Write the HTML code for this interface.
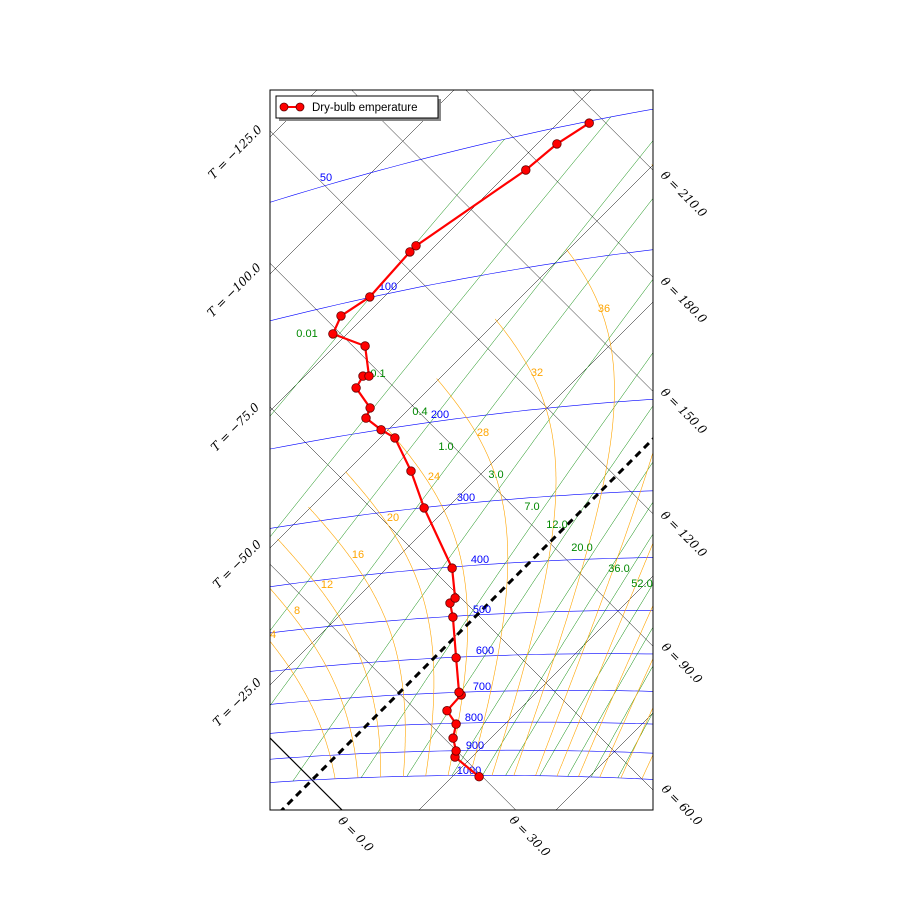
<!DOCTYPE html>
<html><head><meta charset="utf-8"><style>
html,body{margin:0;padding:0;background:#fff;overflow:hidden;}
svg{display:block;}
svg text{font-family:"Liberation Sans","DejaVu Sans",sans-serif;}
.ax{font-family:"DejaVu Serif","Liberation Serif",serif;font-size:12px;font-style:italic;}
</style></head><body>
<svg id="chart" width="900" height="900" viewBox="0 0 900 900" xmlns="http://www.w3.org/2000/svg">
<defs><clipPath id="clip"><rect x="270" y="90" width="383" height="720"/></clipPath></defs>
<rect x="0" y="0" width="900" height="900" fill="#fff"/>
<g id="grid" clip-path="url(#clip)"></g>
<g id="labels" clip-path="url(#clip)"></g>
<g id="series" clip-path="url(#clip)"></g>
<rect x="270" y="90" width="383" height="720" fill="none" stroke="#000" stroke-width="1"/>
<g>
<rect x="279" y="99" width="162" height="22" fill="#888"/>
<rect x="276" y="96" width="162" height="22" fill="#fff" stroke="#000" stroke-width="1"/>
<line x1="284" y1="107" x2="300" y2="107" stroke="#f00" stroke-width="2"/>
<circle cx="284" cy="107" r="4" fill="#f00" stroke="#600" stroke-width="0.8"/>
<circle cx="300" cy="107" r="4" fill="#f00" stroke="#600" stroke-width="0.8"/>
<text x="312" y="111" font-size="11.5">Dry-bulb emperature</text>
</g>
<g>
<text class="ax" transform="translate(238,155) rotate(-45)" text-anchor="middle">T = −125.0</text>
<text class="ax" transform="translate(237,293) rotate(-45)" text-anchor="middle">T = −100.0</text>
<text class="ax" transform="translate(238,430) rotate(-45)" text-anchor="middle">T = −75.0</text>
<text class="ax" transform="translate(240,567) rotate(-45)" text-anchor="middle">T = −50.0</text>
<text class="ax" transform="translate(240,705) rotate(-45)" text-anchor="middle">T = −25.0</text>
</g>
<g>
<text class="ax" transform="translate(681,197) rotate(45)" text-anchor="middle">θ = 210.0</text>
<text class="ax" transform="translate(681,303) rotate(45)" text-anchor="middle">θ = 180.0</text>
<text class="ax" transform="translate(681,414) rotate(45)" text-anchor="middle">θ = 150.0</text>
<text class="ax" transform="translate(681,537) rotate(45)" text-anchor="middle">θ = 120.0</text>
<text class="ax" transform="translate(679,666) rotate(45)" text-anchor="middle">θ = 90.0</text>
<text class="ax" transform="translate(679,808) rotate(45)" text-anchor="middle">θ = 60.0</text>
</g>
<g>
<text class="ax" transform="translate(353,837) rotate(45)" text-anchor="middle">θ = 0.0</text>
<text class="ax" transform="translate(527,839) rotate(45)" text-anchor="middle">θ = 30.0</text>
</g>
</svg>
<script>
// Sounding data: dry-bulb temperature (°C) and potential temperature (°C)
const temperatureC = [29.9,21.9,21.0,18.1,16.1,12.0,11.7,10.8,4.0,-4.0,-7.1,-7.1,-13.1,-29.2,-38.3,-47.3,-51.3,-56.2,-57.3,-63.5,-64.4,-63.3,-69.5,-77.6,-79.4,-77.6,-78.5,-78.5,-72.3,-71.4,-69.3];
const potentialTempC = [29.4,28.6,29.9,31.7,34.8,35.6,41.2,41.3,47.3,54.6,56.8,58.8,64.2,70.8,75.7,79.3,78.1,77.4,80.4,81.7,85.7,87.0,92.7,88.3,94.0,104.7,124.5,127.4,174.6,190.2,205.2];
const isotherms = [-175,-150,-125,-100,-75,-50,-25,0,25,50,75];
const dryAdiabats = [-60,-30,0,30,60,90,120,150,180,210,240,270];
const isobars = [50,100,200,300,400,500,600,700,800,900,1000];
const mixingRatios = [0.01,0.1,0.4,1.0,3.0,7.0,12.0,20.0,28.0,36.0,52.0,70.0,90.0,120.0];
const wetBulbPotTemps = [4,8,12,16,20,24,28,32,36,40,44,48,52,56,60];
const isobarLabels = ["50","100","200","300","400","500","600","700","800","900","1000"];
const mixingLabels = ["0.01","0.1","0.4","1.0","3.0","7.0","12.0","20.0","36.0","52.0"];
const wetLabels = ["4","8","12","16","20","24","28","32","36"];

const NS="http://www.w3.org/2000/svg";
const gGrid=document.getElementById('grid'), gLab=document.getElementById('labels'), gSer=document.getElementById('series');
function xy(Tc, thK){const s=1092+5.48*Tc;const d=468-1667*(Math.log(thK)-5.61);return [(s-d)/2,(s+d)/2];}
function thetaK(Tc,p){return (Tc+273.15)*Math.pow(1000/p,0.2857);}
function es(Tc){return 6.112*Math.exp(17.67*Tc/(Tc+243.5));}
function tFromEs(e){const l=Math.log(e/6.112);return 243.5*l/(17.67-l);}
function poly(pts,stroke,w,dash){const el=document.createElementNS(NS,'polyline');el.setAttribute('points',pts.map(p=>p[0].toFixed(1)+','+p[1].toFixed(1)).join(' '));el.setAttribute('fill','none');el.setAttribute('stroke',stroke);el.setAttribute('stroke-width',w);if(dash)el.setAttribute('stroke-dasharray',dash);return el;}
function txt(g,x,y,s,col){const t=document.createElementNS(NS,'text');t.setAttribute('x',x);t.setAttribute('y',y);t.setAttribute('font-size','11');t.setAttribute('fill',col);t.setAttribute('text-anchor','middle');t.textContent=s;g.appendChild(t);return t;}

let zeroLine=null;
// isotherms
isotherms.forEach(T=>{
  const pts=[xy(T,150),xy(T,700)];
  const el=poly(pts,'#000',T===0?3:0.5,T===0?'7,5':null);
  
  
  if(T!==0) gGrid.appendChild(el); else zeroLine=el;
});
// dry adiabats
dryAdiabats.forEach(th=>{
  const pts=[xy(-250,th+273.15),xy(150,th+273.15)];
  const el=poly(pts,'#000',th===0?1.2:0.5);
  
  
  gGrid.appendChild(el);
});
// isobars
isobars.forEach(p=>{
  const pts=[];for(let T=-170;T<=90;T+=2)pts.push(xy(T,thetaK(T,p)));
  const el=poly(pts,'#00f',0.6);
  
  
  gGrid.appendChild(el);
});
// mixing ratio lines
mixingRatios.forEach(w=>{
  const pts=[];for(let p=1000;p>=50;p-=10){const e=w*p/(622+w);const T=tFromEs(e);pts.push(xy(T,thetaK(T,p)));}
  const el=poly(pts,'#080',0.5);
  
  
  gGrid.appendChild(el);
});
// saturated adiabats
wetBulbPotTemps.forEach(tw=>{
  let T=tw,p=1000;const pts=[xy(T,thetaK(T,p))];
  while(T>-50&&p>60){const TK=T+273.15;const e=es(T);const rs=0.622*e/(p-e);const dTdp=(287*TK+2.5e6*rs)/(p*(1004+2.5e6*2.5e6*rs*0.622/(287*TK*TK)));const dp=-2;T+=dTdp*dp;p+=dp;pts.push(xy(T,thetaK(T,p)));}
  const el=poly(pts,'#ffa500',0.6);
  
  
  gGrid.appendChild(el);
});
if(zeroLine) gGrid.appendChild(zeroLine);

// labels
const isoPos=[[326,181],[388,290],[440,418],[466,501],[480,563],[482,613],[485,654],[482,690],[474,721],[475,749],[469,774]];
isobarLabels.forEach((s,i)=>{const t=txt(gLab,isoPos[i][0],isoPos[i][1],s,'#00f');
  
  });
const mixPos=[[307,337],[378,377],[420,415],[446,450],[496,478],[532,510],[557,528],[582,551],[619,572],[642,587]];
mixingLabels.forEach((s,i)=>{const t=txt(gLab,mixPos[i][0],mixPos[i][1],s,'#080');
  
  });
const wetPos=[[273,638],[297,614],[327,588],[358,558],[393,521],[434,480],[483,436],[537,376],[604,312]];
wetLabels.forEach((s,i)=>{const t=txt(gLab,wetPos[i][0],wetPos[i][1],s,'#ffa500');
  
  });

// dry-bulb series
const pts=temperatureC.map((T,i)=>xy(T,potentialTempC[i]+273.15));
const line=poly(pts,'#f00',2.2);


gSer.appendChild(line);
pts.forEach(p=>{const c=document.createElementNS(NS,'circle');c.setAttribute('cx',p[0].toFixed(1));c.setAttribute('cy',p[1].toFixed(1));c.setAttribute('r','4.3');c.setAttribute('fill','#f00');c.setAttribute('stroke','#600');c.setAttribute('stroke-width','0.8');
  
  
  gSer.appendChild(c);});
</script>
</body></html>
